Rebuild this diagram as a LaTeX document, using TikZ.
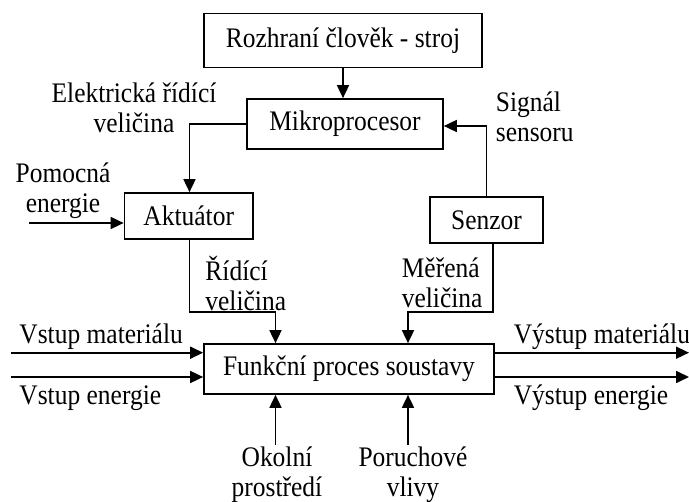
\documentclass[tikz,border=0pt]{standalone}
\usepackage{fontspec}
\setmainfont[FakeStretch=0.9]{Liberation Serif}
\usetikzlibrary{arrows.meta}
\begin{document}
\begin{tikzpicture}[x=1pt,y=-1pt,
  line width=1.7pt,
  every node/.style={font=\fontsize{28.3}{30}\selectfont, inner sep=0pt},
  blok/.style={draw, rectangle, align=center},
  popis/.style={align=center},
  popisL/.style={align=left},
  sipka/.style={-{Triangle[length=13pt,width=12pt]}}]
\useasboundingbox (0,0) rectangle (689,502);

% bloky
\node[blok, minimum width=278pt, minimum height=54pt] (rozhr) at (343,40.5) {Rozhraní člověk - stroj};
\node[blok, minimum width=196pt, minimum height=50pt] (mikro) at (345,124) {Mikroprocesor};
\node[blok, minimum width=128.5pt, minimum height=46pt] (akt) at (188.75,216) {Aktuátor};
\node[blok, minimum width=113pt, minimum height=46pt] (senz) at (486.5,220) {Senzor};
\node[blok, minimum width=290pt, minimum height=50pt] (proc) at (349,369) {Funkční proces soustavy};

% popisky
\node[popis] (elr) at (134,107.5) {Elektrická řídící\\veličina};
\node[popisL, anchor=west] (sig) at (495,116.5) {Signál\\sensoru};
\node[popis] (pom) at (63,190.5) {Pomocná\\energie};
\node[popisL, anchor=west] (rv) at (204.6,283) {Řídící\\veličina};
\node[popisL, anchor=west] (mv) at (401,283) {Měřená\\veličina};
\node[anchor=west] (vm) at (18.6,337) {Vstup materiálu};
\node[anchor=west] (ve) at (18.6,398) {Vstup energie};
\node[anchor=west] (ym) at (513,337) {Výstup materiálu};
\node[anchor=west] (ye) at (513,398) {Výstup energie};
\node[popis] (okol) at (277,474.5) {Okolní\\prostředí};
\node[popis] (por) at (413,474.5) {Poruchové\\vlivy};

% volné konce spojnic
\coordinate (pomK) at (29,223);
\coordinate (vmK) at (11,352.7);
\coordinate (veK) at (11,377);
\coordinate (ymK) at (689,352.7);
\coordinate (yeK) at (689,377);
\coordinate (aktZ) at (189.5,311.7);
\coordinate (senZ) at (493,311.7);
\coordinate (okK) at (275.5,445);
\coordinate (poK) at (408,445);

% spojnice
\draw[sipka] (rozhr.south) -- (rozhr.south |- mikro.north);
\draw[sipka] (mikro.west) -| ([xshift=0.75pt]akt.north);
\draw[sipka] (senz.north) |- ([yshift=-2pt]mikro.east);
\draw[sipka] (pomK) -- (pomK -| akt.west);
\draw[sipka] ([xshift=0.75pt]akt.south) -- (aktZ) -| (okK |- proc.north);
\draw[sipka] ([xshift=6.5pt]senz.south) -- (senZ) -| (poK |- proc.north);
\draw[sipka] (vmK) -- (vmK -| proc.west);
\draw[sipka] (veK) -- (veK -| proc.west);
\draw[sipka] (ymK -| proc.east) -- (ymK);
\draw[sipka] (yeK -| proc.east) -- (yeK);
\draw[sipka] (okK) -- (okK |- proc.south);
\draw[sipka] (poK) -- (poK |- proc.south);
\end{tikzpicture}
\end{document}
